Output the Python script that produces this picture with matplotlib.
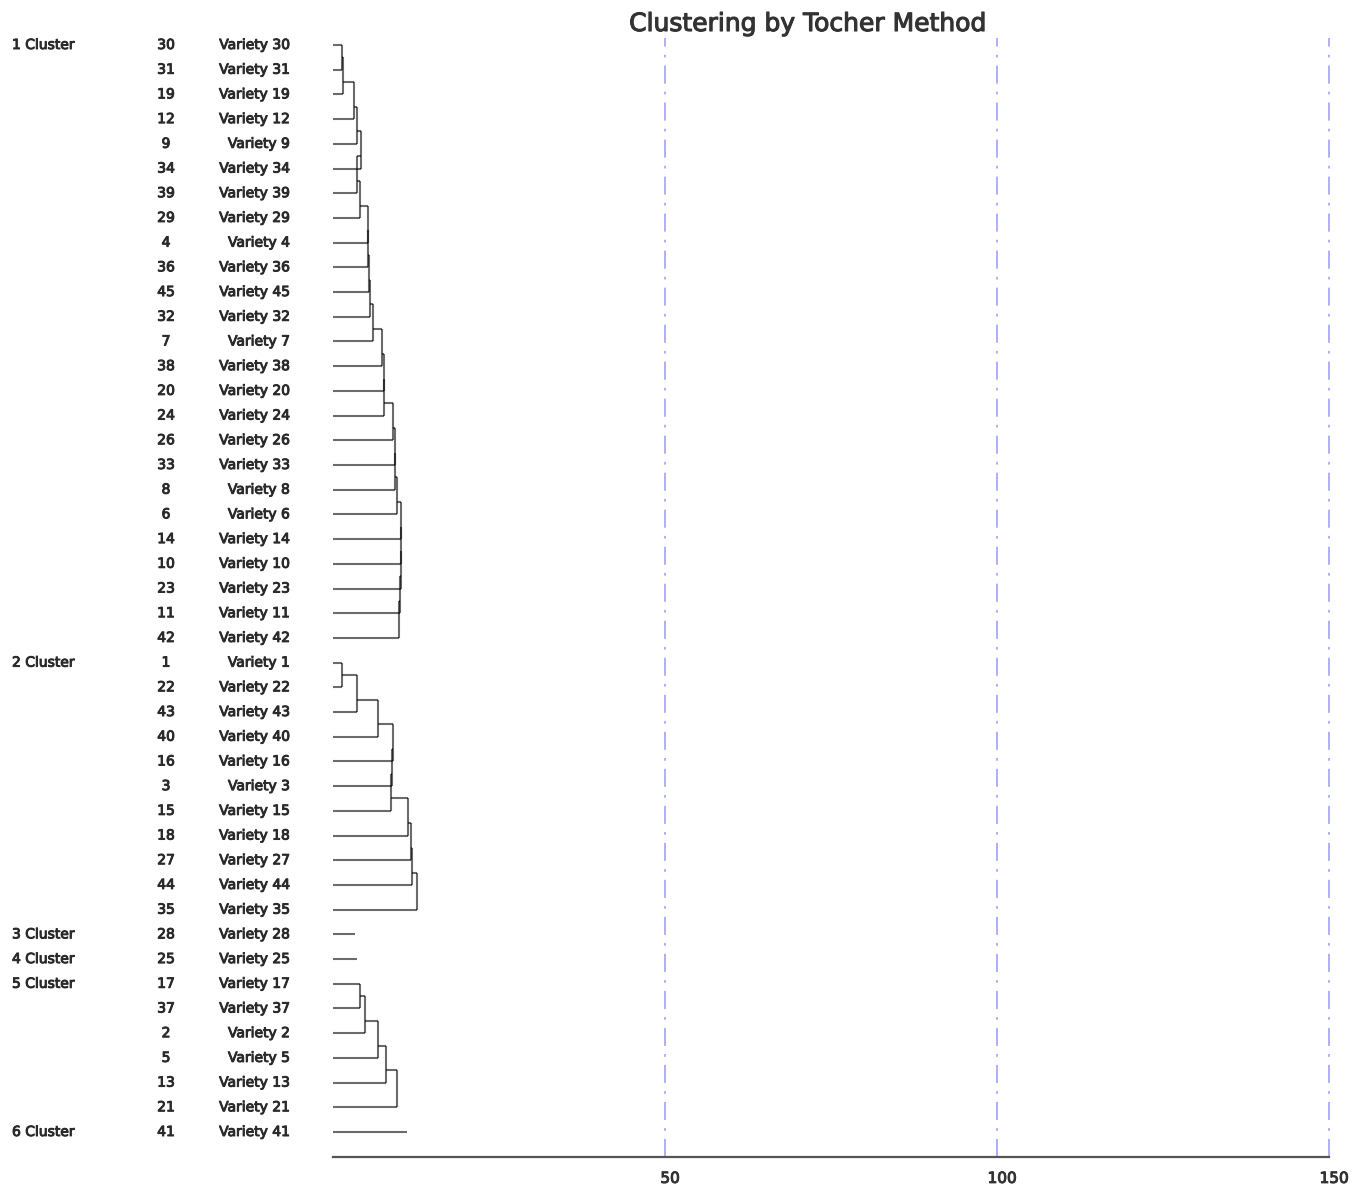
import matplotlib.pyplot as plt
import matplotlib.patheffects as pe
from matplotlib.transforms import blended_transform_factory, ScaledTranslation

# Tocher clusters, varieties in plotting order
cluster_names = ["1 Cluster", "2 Cluster", "3 Cluster", "4 Cluster", "5 Cluster", "6 Cluster"]
cluster_members = [
    [30, 31, 19, 12, 9, 34, 39, 29, 4, 36, 45, 32, 7, 38, 20, 24, 26, 33, 8, 6, 14, 10, 23, 11, 42],
    [1, 22, 43, 40, 16, 3, 15, 18, 27, 44, 35],
    [28],
    [25],
    [17, 37, 2, 5, 13, 21],
    [41],
]
# join distance of each member (first entry = distance of the first pair)
cluster_heights = [
    [1.3, 1.3, 1.55, 3.2, 3.55, 4.15, 3.6, 4.05, 5.3, 5.2, 5.45, 5.55, 5.95,
     7.35, 7.75, 7.7, 9.1, 9.35, 9.35, 9.6, 10.2, 10.25, 10.25, 10.15, 9.95],
    [1.3, 1.3, 3.55, 6.85, 9.1, 8.9, 8.75, 11.35, 11.7, 11.95, 12.6],
    [3.3],
    [3.55],
    [4.05, 4.05, 4.8, 6.85, 7.95, 9.7],
    [11.2],
]
x_ticks = [50, 100, 150]

W, H = 1355, 1186
fig = plt.figure(figsize=(W / 100, H / 100), dpi=100)

x0_px, x1_px = 333, 1329
top_px, axis_px = 38, 1157
row0_px, rowN_px = 45, 1132
n_rows = sum(len(m) for m in cluster_members)
row_step = (rowN_px - row0_px) / (n_rows - 1)

ax = fig.add_axes([x0_px / W, (H - axis_px) / H, (x1_px - x0_px) / W, (axis_px - top_px) / H])
ax.set_xlim(0, 150)
ax.set_ylim(n_rows - 1 + (axis_px - rowN_px) / row_step, -(row0_px - top_px) / row_step)

for s in ["top", "right", "left"]:
    ax.spines[s].set_visible(False)
ax.spines["bottom"].set_color("#555555")
ax.spines["bottom"].set_linewidth(1.6)
ax.set_yticks([])
ax.set_xticks(x_ticks)
ax.tick_params(axis="x", length=0, pad=10, labelsize=11, colors="#333333")
bold_fx = [pe.withStroke(linewidth=0.7, foreground="#2a2a2a")]
for lab in ax.get_xticklabels():
    lab.set_transform(lab.get_transform() + ScaledTranslation(5 / 100, 0, fig.dpi_scale_trans))
    lab.set_path_effects(bold_fx)

for xv in x_ticks:
    ax.axvline(xv, color="#a8a8ff", lw=1.3, ls=(0, (10, 4.5, 1.5, 4.5)), clip_on=False, zorder=1)

line_kw = dict(color="black", alpha=0.58, lw=1.5, solid_capstyle="butt", zorder=3)
label_tr = blended_transform_factory(fig.transFigure, ax.transData)
text_kw = dict(fontsize=10, color="#2a2a2a", va="center", transform=label_tr,
               family="DejaVu Sans", path_effects=bold_fx)

r0 = 0
for name, members, heights in zip(cluster_names, cluster_members, cluster_heights):
    ax.text(12 / W, r0, name, ha="left", **text_kw)
    for k, (m, h) in enumerate(zip(members, heights)):
        y = r0 + k
        ax.text(166 / W, y, str(m), ha="center", **text_kw)
        ax.text(290 / W, y, f"Variety {m}", ha="right", **text_kw)
        ax.plot([0, h], [y, y], **line_kw)
        if k == 1:
            ax.plot([h, h], [r0, y], **line_kw)
        elif k >= 2:
            top = y - 1.5
            ax.plot([heights[k - 1], h], [top, top], **line_kw)
            ax.plot([h, h], [top, y], **line_kw)
    r0 += len(members)

fig.text(808 / W, 1 - 24 / H, "Clustering by Tocher Method", ha="center", va="center",
         fontsize=18, color="#333333", family="DejaVu Sans",
         path_effects=[pe.withStroke(linewidth=0.8, foreground="#333333")])

fig.savefig("out.png", dpi=100, facecolor="white")
